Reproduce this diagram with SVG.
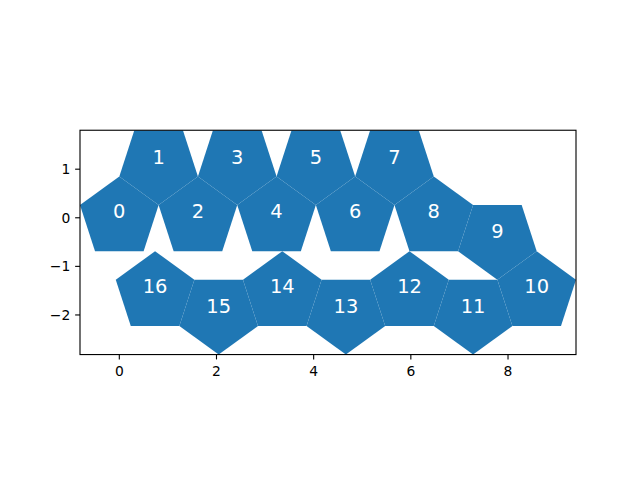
<svg xmlns="http://www.w3.org/2000/svg" xmlns:xlink="http://www.w3.org/1999/xlink" width="640" height="480" viewBox="0 0 640 480">
  <style>
    .pent { fill: #1f77b4; stroke: none; }
    .lbl { font-family: "DejaVu Sans", sans-serif; font-size: 19.44px; fill: #ffffff; text-anchor: middle; }
    .tick { stroke: #000; stroke-width: 1.11; }
    .tl { font-family: "DejaVu Sans", sans-serif; font-size: 13.89px; fill: #000; }
    .spine { fill: none; stroke: #000; stroke-width: 1.11; stroke-linecap: square; }
  </style>
  <defs>
    <polygon id="up" points="0,0.85065 -0.80902,0.26287 -0.5,-0.68819 0.5,-0.68819 0.80902,0.26287"/>
    <polygon id="down" points="0,-0.85065 -0.80902,-0.26287 -0.5,0.68819 0.5,0.68819 0.80902,-0.26287"/>
    <clipPath id="ax"><rect x="80" y="130.24" width="496" height="224.32"/></clipPath>
  </defs>
  <rect x="0" y="0" width="640" height="480" fill="#ffffff"/>
  <g id="shapes" clip-path="url(#ax)">
    <g transform="translate(119.31,217.78) scale(48.588,-48.588)">
      <g id="p0"><use href="#up" class="pent" x="0" y="0"/></g>
      <g id="p1"><use href="#down" class="pent" x="0.80902" y="1.11352"/></g>
      <g id="p2"><use href="#up" class="pent" x="1.61803" y="0"/></g>
      <g id="p3"><use href="#down" class="pent" x="2.42705" y="1.11352"/></g>
      <g id="p4"><use href="#up" class="pent" x="3.23607" y="0"/></g>
      <g id="p5"><use href="#down" class="pent" x="4.04508" y="1.11352"/></g>
      <g id="p6"><use href="#up" class="pent" x="4.85410" y="0"/></g>
      <g id="p7"><use href="#down" class="pent" x="5.66312" y="1.11352"/></g>
      <g id="p8"><use href="#up" class="pent" x="6.47214" y="0"/></g>
      <g id="p9"><use href="#down" class="pent" x="7.78115" y="-0.42533"/></g>
      <g id="p10"><use href="#up" class="pent" x="8.59017" y="-1.53884"/></g>
      <g id="p11"><use href="#down" class="pent" x="7.28115" y="-1.96417"/></g>
      <g id="p12"><use href="#up" class="pent" x="5.97213" y="-1.53884"/></g>
      <g id="p13"><use href="#down" class="pent" x="4.66311" y="-1.96417"/></g>
      <g id="p14"><use href="#up" class="pent" x="3.35409" y="-1.53884"/></g>
      <g id="p15"><use href="#down" class="pent" x="2.04507" y="-1.96417"/></g>
      <g id="p16"><use href="#up" class="pent" x="0.73605" y="-1.53884"/></g>
    </g>
  </g>
  <g id="connectors"></g>
  <g id="spines">
    <rect class="spine" x="80" y="130.24" width="496" height="224.32"/>
  </g>
  <g id="xticks">
    <line class="tick" x1="119.31" y1="354.56" x2="119.31" y2="359.42"/>
    <line class="tick" x1="216.49" y1="354.56" x2="216.49" y2="359.42"/>
    <line class="tick" x1="313.66" y1="354.56" x2="313.66" y2="359.42"/>
    <line class="tick" x1="410.84" y1="354.56" x2="410.84" y2="359.42"/>
    <line class="tick" x1="508.02" y1="354.56" x2="508.02" y2="359.42"/>
    <text class="tl" x="119.31" y="375.5" text-anchor="middle">0</text>
    <text class="tl" x="216.49" y="375.5" text-anchor="middle">2</text>
    <text class="tl" x="313.66" y="375.5" text-anchor="middle">4</text>
    <text class="tl" x="410.84" y="375.5" text-anchor="middle">6</text>
    <text class="tl" x="508.02" y="375.5" text-anchor="middle">8</text>
  </g>
  <g id="yticks">
    <line class="tick" x1="80" y1="169.19" x2="75.14" y2="169.19"/>
    <line class="tick" x1="80" y1="217.78" x2="75.14" y2="217.78"/>
    <line class="tick" x1="80" y1="266.37" x2="75.14" y2="266.37"/>
    <line class="tick" x1="80" y1="314.96" x2="75.14" y2="314.96"/>
    <text class="tl" x="70.3" y="174.2" text-anchor="end">1</text>
    <text class="tl" x="70.3" y="222.8" text-anchor="end">0</text>
    <text class="tl" x="70.3" y="271.4" text-anchor="end">−1</text>
    <text class="tl" x="70.3" y="320.0" text-anchor="end">−2</text>
  </g>
  <g id="labels">
    <text class="lbl" x="119.3" y="217.8">0</text>
    <text class="lbl" x="158.6" y="163.7">1</text>
    <text class="lbl" x="197.9" y="217.8">2</text>
    <text class="lbl" x="237.2" y="163.7">3</text>
    <text class="lbl" x="276.5" y="217.8">4</text>
    <text class="lbl" x="315.9" y="163.7">5</text>
    <text class="lbl" x="355.2" y="217.8">6</text>
    <text class="lbl" x="394.5" y="163.7">7</text>
    <text class="lbl" x="433.8" y="217.8">8</text>
    <text class="lbl" x="497.4" y="238.4">9</text>
    <text class="lbl" x="536.7" y="292.5">10</text>
    <text class="lbl" x="473.1" y="313.2">11</text>
    <text class="lbl" x="409.5" y="292.5">12</text>
    <text class="lbl" x="345.9" y="313.2">13</text>
    <text class="lbl" x="282.3" y="292.5">14</text>
    <text class="lbl" x="218.7" y="313.2">15</text>
    <text class="lbl" x="155.1" y="292.5">16</text>
  </g>
</svg>
